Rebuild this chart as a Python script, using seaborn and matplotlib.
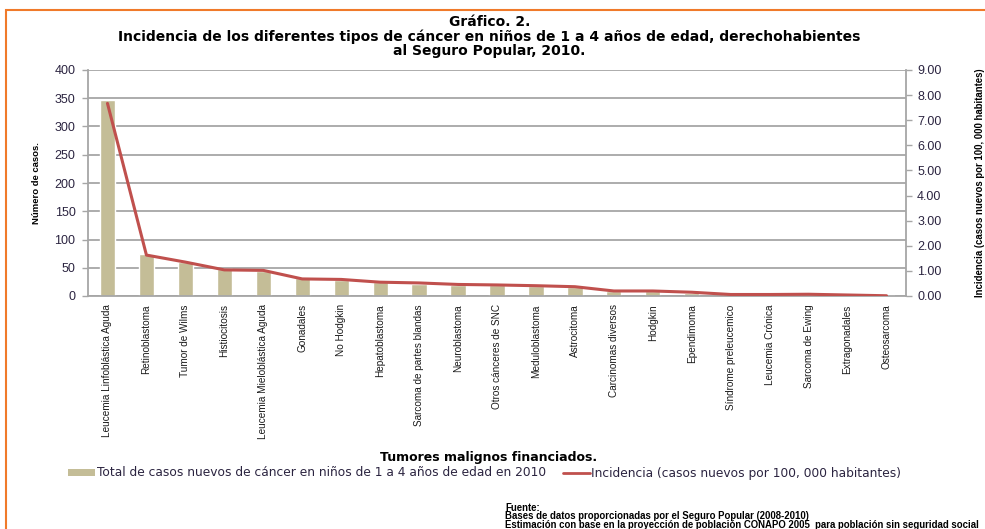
import numpy as np
import pandas as pd
import matplotlib
matplotlib.use("Agg")
import matplotlib.pyplot as plt
from matplotlib import font_manager
from matplotlib.patches import Rectangle, Patch
from matplotlib.lines import Line2D
import seaborn as sns

# ---- data -------------------------------------------------------------
tumores = [
    "Leucemia Linfoblástica Aguda", "Retinoblastoma", "Tumor de Wilms",
    "Histiocitosis", "Leucemia Mieloblástica Aguda", "Gonadales",
    "No Hodgkin", "Hepatoblastoma", "Sarcoma de partes blandas",
    "Neuroblastoma", "Otros cánceres de SNC", "Meduloblastoma",
    "Astrocitoma", "Carcinomas diversos", "Hodgkin", "Ependimoma",
    "Síndrome preleucemico", "Leucemia Crónica", "Sarcoma de Ewing",
    "Extragonadales", "Osteosarcoma",
]
casos = [347, 74, 61, 47, 45, 31, 29, 24, 22, 20, 19, 18, 16, 9, 9, 6,
         3, 3, 3, 2, 1]
incidencia = [7.67, 1.63, 1.35, 1.04, 1.02, 0.68, 0.66, 0.55, 0.52, 0.46,
              0.44, 0.41, 0.37, 0.20, 0.20, 0.15, 0.06, 0.06, 0.07, 0.04,
              0.01]
ticks_casos = [0, 50, 100, 150, 200, 250, 300, 350, 400]
ticks_inc = [0, 1, 2, 3, 4, 5, 6, 7, 8, 9]

titulo = ["Gráfico. 2.",
          "Incidencia de los diferentes tipos de cáncer en niños de 1 a 4 años de edad, derechohabientes",
          "al Seguro Popular, 2010."]
leyenda_barras = "Total de casos nuevos de cáncer en niños de 1 a 4 años de edad en 2010"
leyenda_linea = "Incidencia (casos nuevos por 100, 000 habitantes)"
fuente = ["Fuente:",
          "Bases de datos proporcionadas por el Seguro Popular (2008-2010)",
          "Estimación con base en la proyección de población CONAPO 2005  para población sin seguridad social"]

# ---- style ------------------------------------------------------------
sns.set_theme(style="white")
available = {f.name for f in font_manager.fontManager.ttflist}
narrow = "Liberation Sans Narrow" if "Liberation Sans Narrow" in available else "Liberation Sans"
plt.rcParams["font.family"] = ["Liberation Sans", "DejaVu Sans"]

BAR = "#c4bd97"
LINE = "#c0504d"
GRID = "#a6a6a6"
TXT = "#2b2440"

df = pd.DataFrame({"tumor": tumores, "casos": casos, "incidencia": incidencia,
                   "pos": np.arange(len(tumores))})

fig = plt.figure(figsize=(9.85, 5.29), dpi=100)
ax = fig.add_axes([88 / 985, 1 - 296 / 529, (906 - 88) / 985, (296 - 70) / 529])

sns.barplot(data=df, x="tumor", y="casos", color=BAR, width=0.39,
            saturation=1, ax=ax, zorder=2)
ax.set_ylim(0, 400)
ax.set_yticks(ticks_casos)
ax.set_yticklabels([str(t) for t in ticks_casos], fontsize=9, color=TXT)
ax.set_xlim(-0.5, len(tumores) - 0.5)
ax.grid(axis="y", color=GRID, lw=1.3, zorder=0)
ax.set_axisbelow(True)
ax.set_xticks(np.arange(len(tumores)))
ax.set_xticklabels(tumores, rotation=90, fontsize=7.2, family=narrow,
                   color="#1a1a1a", va="top")
ax.tick_params(axis="x", length=0, pad=6)
ax.tick_params(axis="y", length=4, color=GRID, width=1, direction="out",
               left=True, pad=5)
ax.set_xlabel("Tumores malignos financiados.", fontsize=9, fontweight="bold",
              family=["DejaVu Sans"], color="black")
ax.xaxis.set_label_coords(0.49, -0.685)
ax.set_ylabel("Número de casos.", fontsize=6.8, fontweight="bold",
              family=narrow, color="black")
ax.yaxis.set_label_coords(-0.058, 0.5)
for s in ["top", "right"]:
    ax.spines[s].set_visible(False)
for s in ["left", "bottom"]:
    ax.spines[s].set_color(GRID)
    ax.spines[s].set_linewidth(1.3)

ax2 = ax.twinx()
sns.lineplot(data=df, x="pos", y="incidencia", color=LINE, lw=2.2, ax=ax2,
             zorder=3)
ax2.set_ylim(0, 9)
ax2.set_yticks(ticks_inc)
ax2.set_yticklabels([f"{t:.2f}" for t in ticks_inc], fontsize=9, color=TXT)
ax2.tick_params(axis="y", length=4, color=GRID, width=1, direction="out",
                right=True, pad=4)
ax2.set_xlim(-0.5, len(tumores) - 0.5)
ax2.set_xlabel("")
ax2.set_ylabel(leyenda_linea, fontsize=6.9, fontweight="bold", family=narrow,
               color="black")
ax2.yaxis.set_label_coords(1.0845, 0.5)
for s in ["top", "left", "bottom"]:
    ax2.spines[s].set_visible(False)
ax2.spines["right"].set_color(GRID)
ax2.spines["right"].set_linewidth(1.3)
ax2.grid(False)

# title, one line at a time
for line, ypix in zip(titulo, [22, 37, 51]):
    fig.text(0.497, 1 - ypix / 529, line, ha="center", va="center",
             fontsize=10, fontweight="bold", family=["DejaVu Sans"],
             color="black")

# legend
handles = [Patch(facecolor=BAR, edgecolor="none"),
           Line2D([0], [0], color=LINE, lw=2)]
fig.legend(handles, [leyenda_barras, leyenda_linea], loc="center",
           bbox_to_anchor=(0.492, 1 - 473 / 529), ncol=2, frameon=False,
           prop={"family": "DejaVu Sans", "size": 8.8},
           handlelength=2.2, handleheight=0.5, handletextpad=0.1,
           columnspacing=1.4, labelcolor=TXT)

# source note as one block of tightly spaced lines
fig.text(505 / 985, 1 - 503 / 529, "\n".join(fuente), fontsize=6.9,
         fontweight="bold", family=narrow, color="black", va="top",
         ha="left", linespacing=0.8)

# orange frame
fig.add_artist(Rectangle((6 / 985, -0.2), 1.2, 1.2 - 10 / 529,
                         transform=fig.transFigure, fill=False,
                         edgecolor="#f07a2a", lw=1.5))

fig.savefig("out.png", dpi=100, facecolor="white")
